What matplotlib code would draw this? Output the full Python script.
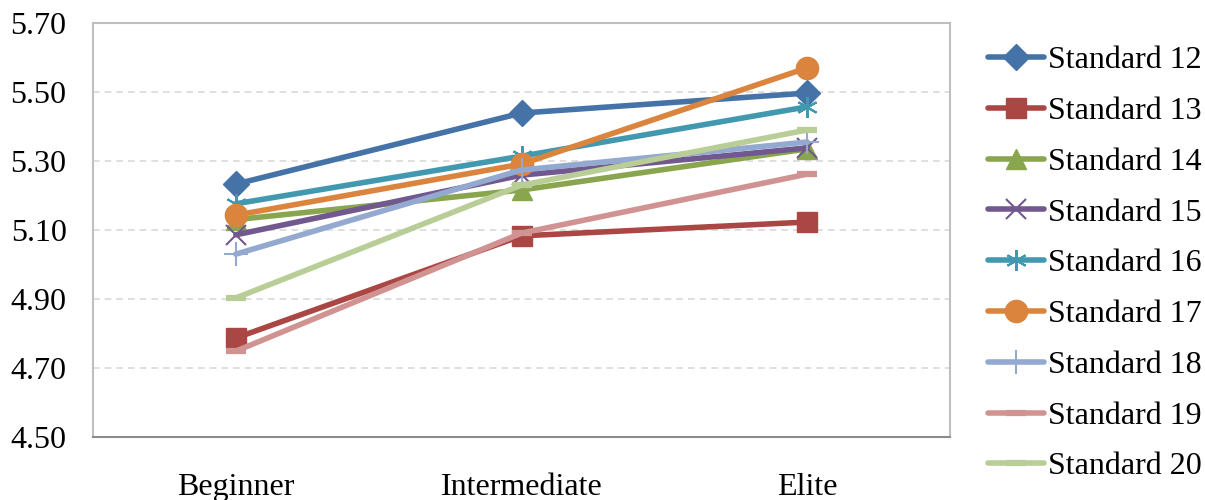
import matplotlib
matplotlib.use("Agg")
import matplotlib.pyplot as plt

levels = ["Beginner", "Intermediate", "Elite"]

standard_12 = [5.233, 5.439, 5.497]
standard_13 = [4.787, 5.083, 5.123]
standard_14 = [5.130, 5.216, 5.335]
standard_15 = [5.086, 5.259, 5.338]
standard_16 = [5.176, 5.314, 5.457]
standard_17 = [5.143, 5.291, 5.570]
standard_18 = [5.030, 5.274, 5.355]
standard_19 = [4.749, 5.091, 5.262]
standard_20 = [4.903, 5.230, 5.390]

series_names = ["Standard 12", "Standard 13", "Standard 14", "Standard 15",
                "Standard 16", "Standard 17", "Standard 18", "Standard 19",
                "Standard 20"]
series_values = [standard_12, standard_13, standard_14, standard_15,
                 standard_16, standard_17, standard_18, standard_19,
                 standard_20]

y_ticks = [4.50, 4.70, 4.90, 5.10, 5.30, 5.50, 5.70]

colors = ["#4572A7", "#AA4643", "#89A54E", "#71588F", "#4198AF",
          "#DB843D", "#93A9CF", "#D19392", "#B9CD96"]
markers = ["D", "s", "^", "x", (6, 2, 0), "o", "+", "_", "_"]
marker_sizes = [13, 14, 14, 14, 15, 16, 17, 15, 15]
marker_edge = [1, 1, 1, 1.5, 1.5, 1, 1.5, 4.5, 4.5]

plt.rcParams["font.family"] = ["Liberation Serif", "DejaVu Serif"]

fig = plt.figure(figsize=(12.05, 5.0), dpi=100)
ax = fig.add_axes([93 / 1205, 1 - 437 / 500, (950 - 93) / 1205, (437 - 23) / 500])

x = list(range(len(levels)))
for name, vals, c, m, ms, mew in zip(series_names, series_values, colors,
                                     markers, marker_sizes, marker_edge):
    ax.plot(x, vals, color=c, lw=4.0, marker=m, markersize=ms,
            markerfacecolor=c, markeredgecolor=c, markeredgewidth=mew,
            solid_capstyle="round", label=name, zorder=3)

ax.set_xlim(-0.5, len(levels) - 0.5)
ax.set_ylim(y_ticks[0], y_ticks[-1])
ax.set_yticks(y_ticks)
ax.set_yticklabels([f"{v:.2f}" for v in y_ticks])
ax.set_xticks(x)
ax.set_xticklabels(levels)
ax.tick_params(axis="both", length=0, labelsize=23, colors="black")
ax.tick_params(axis="y", pad=19)
ax.tick_params(axis="x", pad=26)

ax.grid(axis="y", color="#D9D9D9", linestyle=(0, (4, 3)), linewidth=1.2, zorder=0)
for side in ["left", "right", "top"]:
    ax.spines[side].set_color("#BFBFBF")
    ax.spines[side].set_linewidth(1.5)
ax.spines["bottom"].set_color("#8C8C8C")
ax.spines["bottom"].set_linewidth(1.5)

fig.legend(loc="upper left", bbox_to_anchor=(988 / 1205, 1 - 46 / 500),
           frameon=False, fontsize=23, handlelength=1.75, handletextpad=0.12,
           labelspacing=0.67, borderpad=0, borderaxespad=0)

fig.savefig("out.png", dpi=100)
